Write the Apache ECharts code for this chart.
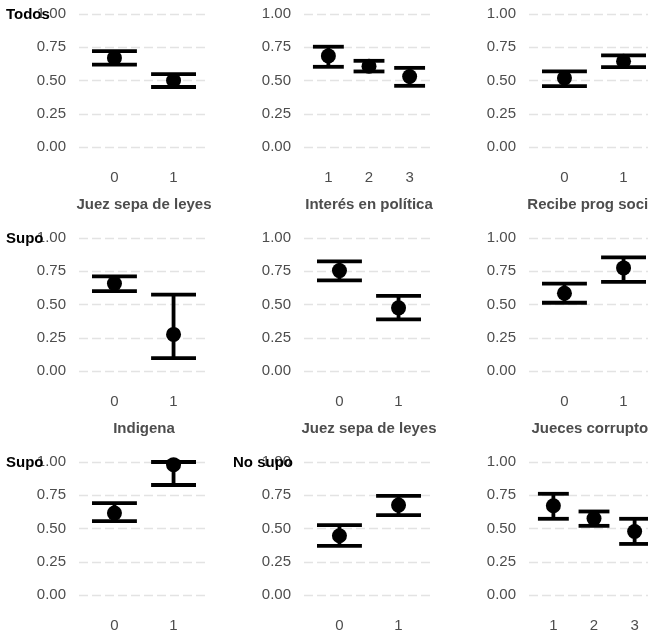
<!DOCTYPE html>
<html>
<head>
<meta charset="utf-8">
<script src="https://cdn.jsdelivr.net/npm/echarts@6/dist/echarts.min.js"></script>
<style>
  html, body { margin: 0; padding: 0; background: #ffffff; }
  #chart { width: 648px; height: 634px; }
</style>
</head>
<body>
<div id="chart"></div>
<script>
// Predicted probability with 95% interval, one panel per predictor (3 x 3 grid)
const panelTitles = ['Todos', '', '', 'Supo', '', '', 'Supo', 'No supo', ''];
const axisTitles = ['Juez sepa de leyes', 'Interés en política', 'Recibe prog social',
                    'Indigena', 'Juez sepa de leyes', 'Jueces corruptos', '', '', ''];
const categories = [
  ['0', '1'], ['1', '2', '3'], ['0', '1'],
  ['0', '1'], ['0', '1'], ['0', '1'],
  ['0', '1'], ['0', '1'], ['1', '2', '3']
];
const estimates = [
  [0.670, 0.500], [0.685, 0.608, 0.530], [0.519, 0.645],
  [0.657, 0.275], [0.755, 0.475], [0.585, 0.775],
  [0.616, 0.980], [0.445, 0.676], [0.671, 0.575, 0.477]
];
const lowerCI = [
  [0.620, 0.451], [0.603, 0.568, 0.460], [0.457, 0.600],
  [0.600, 0.097], [0.682, 0.388], [0.513, 0.670],
  [0.555, 0.827], [0.369, 0.600], [0.573, 0.520, 0.384]
];
const upperCI = [
  [0.721, 0.548], [0.754, 0.648, 0.595], [0.569, 0.689],
  [0.712, 0.575], [0.825, 0.565], [0.657, 0.855],
  [0.691, 1.000], [0.525, 0.746], [0.761, 0.628, 0.573]
];
const yTicks = [0, 0.25, 0.5, 0.75, 1];

const FONT = '"Liberation Sans", Arial, sans-serif';
const TEXT_GREY = '#4d4d4d';
const colLeft = [79, 304, 529];
const rowTop = [14, 238, 462];
const plotW = 130, plotH = 133;
const capHalf = 0.38;

function renderErrorBar(params, api) {
  const x = api.value(0);
  const pMid = api.coord([x, api.value(1)]);
  const pLo = api.coord([x, api.value(2)]);
  const pHi = api.coord([x, api.value(3)]);
  const xl = api.coord([x - capHalf, 0])[0];
  const xr = api.coord([x + capHalf, 0])[0];
  const st = { stroke: '#000', lineWidth: 3.8, lineCap: 'butt' };
  return {
    type: 'group',
    children: [
      { type: 'line', shape: { x1: pLo[0], y1: pLo[1], x2: pHi[0], y2: pHi[1] }, style: st },
      { type: 'line', shape: { x1: xl, y1: pHi[1], x2: xr, y2: pHi[1] }, style: st },
      { type: 'line', shape: { x1: xl, y1: pLo[1], x2: xr, y2: pLo[1] }, style: st },
      { type: 'circle', shape: { cx: pMid[0], cy: pMid[1], r: 7.5 }, style: { fill: '#000' } }
    ]
  };
}

const grids = [], xAxes = [], yAxes = [], series = [], graphics = [];
for (let i = 0; i < 9; i++) {
  const r = Math.floor(i / 3), c = i % 3;
  const cats = categories[i];
  const n = cats.length;
  grids.push({
    left: colLeft[c], top: rowTop[r], width: plotW, height: plotH,
    containLabel: false, outerBoundsMode: 'none'
  });
  xAxes.push({
    gridIndex: i, type: 'value', min: -0.6, max: n - 1 + 0.6,
    axisLine: { show: false }, axisTick: { show: false }, splitLine: { show: false },
    axisLabel: {
      customValues: cats.map((_, k) => k),
      formatter: v => cats[Math.round(v)],
      color: TEXT_GREY, fontSize: 15, fontFamily: FONT, margin: 23
    },
    name: axisTitles[i], nameLocation: 'middle', nameGap: 50,
    nameTextStyle: { color: TEXT_GREY, fontSize: 15, fontWeight: 'bold', fontFamily: FONT }
  });
  yAxes.push({
    gridIndex: i, type: 'value', min: 0, max: 1, interval: 0.25,
    axisLine: { show: false }, axisTick: { show: false },
    splitLine: { show: true, lineStyle: { color: '#e3e3e3', width: 1.3, type: [9, 4] } },
    axisLabel: {
      customValues: yTicks,
      formatter: v => v.toFixed(2),
      color: TEXT_GREY, fontSize: 15, fontFamily: FONT, margin: 13
    }
  });
  series.push({
    type: 'custom', xAxisIndex: i, yAxisIndex: i, clip: false,
    renderItem: renderErrorBar,
    data: cats.map((_, k) => [k, estimates[i][k], lowerCI[i][k], upperCI[i][k]])
  });
  if (panelTitles[i]) {
    graphics.push({
      type: 'text', z: 100,
      x: c === 0 ? 6 : colLeft[c] - 71, y: rowTop[r] + 1,
      style: { text: panelTitles[i], font: 'bold 15px ' + FONT, fill: '#000', verticalAlign: 'middle' }
    });
  }
}

const chart = echarts.init(document.getElementById('chart'), null, { renderer: 'canvas' });
chart.setOption({
  backgroundColor: '#ffffff',
  animation: false,
  grid: grids,
  xAxis: xAxes,
  yAxis: yAxes,
  series: series,
  graphic: graphics
});
</script>
</body>
</html>
